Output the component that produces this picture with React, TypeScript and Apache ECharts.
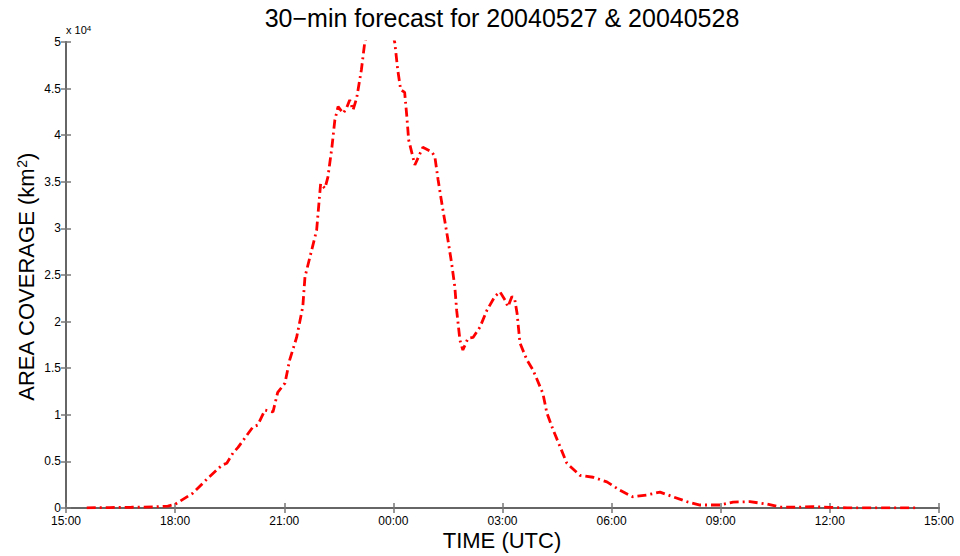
import React, { useEffect, useRef } from "react";
import * as echarts from "echarts";

// hours since 15:00 UTC (20040527)
const hours = [
  0.57, 1.2, 1.8, 2.4, 2.8, 3.0, 3.49, 3.9, 4.29, 4.42,
  4.59, 4.73, 4.97, 5.14, 5.27, 5.47, 5.69, 5.82, 6.02, 6.15,
  6.34, 6.51, 6.57, 6.89, 7.0, 7.12, 7.2, 7.31, 7.39, 7.48,
  7.62, 7.71, 7.8, 7.89, 7.99, 8.12, 8.21, 8.55, 8.85, 9.04,
  9.12, 9.2, 9.31, 9.37, 9.42, 9.59, 9.81, 10.06, 10.14, 10.23,
  10.34, 10.47, 10.6, 10.69, 10.74, 10.83, 10.91, 11.05, 11.19, 11.38,
  11.57, 11.79, 11.93, 12.07, 12.15, 12.26, 12.34, 12.4, 12.48, 12.67,
  12.84, 13.11, 13.22, 13.39, 13.58, 13.77, 14.13, 14.49, 14.87, 15.23,
  15.58, 15.97, 16.33, 16.69, 17.1, 17.43, 17.98, 18.34, 18.8, 19.26,
  19.63, 20.18, 20.54, 21.0, 21.47, 22.5, 23.4,
];

// area coverage (km^2)
const coverage = [
  20, 50, 80, 120, 200, 400, 1600, 3200, 4600, 4800,
  5900, 6500, 7800, 8700, 8900, 10500, 10300, 12400, 13400, 15900,
  18300, 21600, 24800, 29800, 34800, 34300, 35500, 38700, 41600, 43060,
  42350, 42880, 43780, 42700, 43960, 47000, 49860, 54500, 53500, 49900,
  47000, 44900, 44600, 42000, 39500, 36800, 38700, 38200, 37700, 35200,
  32500, 29500, 26300, 23700, 21200, 18000, 16950, 18200, 18300, 19400,
  21200, 22700, 23200, 22300, 21600, 22700, 22300, 20900, 17700, 15900,
  14800, 12300, 10200, 8400, 6600, 4800, 3500, 3300, 2800, 1900,
  1200, 1400, 1700, 1200, 640, 320, 320, 640, 680, 430,
  100, 100, 140, 75, 10, 10, 10,
];

const xTickLabels = ["15:00", "18:00", "21:00", "00:00", "03:00", "06:00", "09:00", "12:00", "15:00"];
const yTickLabels = ["0", "0.5", "1", "1.5", "2", "2.5", "3", "3.5", "4", "4.5", "5"];

const titleText = "30\u2212min forecast for 20040527 & 20040528";
const xName = "TIME (UTC)";
const yName = "AREA COVERAGE (km{sup|2})";
const exponentText = "x 10{sup|4}";

const FONT = "Liberation Sans, Arial, Helvetica, sans-serif";

export default function App() {
  const ref = useRef<HTMLDivElement>(null);

  useEffect(() => {
    if (!ref.current) return;
    const chart = echarts.init(ref.current, null, { renderer: "svg" });
    const data = hours.map((h, i) => [h, coverage[i]]);
    const axisLine = { show: true, lineStyle: { color: "#666", width: 2 } };
    const tick = { show: true, inside: true, length: 5, lineStyle: { color: "#777", width: 1.5 } };

    chart.setOption({
      animation: false,
      backgroundColor: "#fff",
      grid: { left: 66, right: 21, top: 42, bottom: 48, containLabel: false },
      xAxis: [
        {
          type: "value",
          min: 0,
          max: 24,
          interval: 3,
          axisLine,
          axisTick: tick,
          splitLine: { show: false },
          axisLabel: {
            formatter: (v: number) => xTickLabels[Math.round(v / 3)],
            color: "#000",
            fontSize: 12,
            fontFamily: FONT,
            margin: 7,
          },
        },
        {
          type: "value",
          position: "top",
          min: 0,
          max: 24,
          interval: 3,
          axisLine,
          axisTick: tick,
          splitLine: { show: false },
          axisLabel: { show: false },
        },
      ],
      yAxis: [
        {
          type: "value",
          min: 0,
          max: 50000,
          interval: 5000,
          axisLine,
          axisTick: tick,
          splitLine: { show: false },
          axisLabel: {
            formatter: (v: number) => yTickLabels[Math.round(v / 5000)],
            color: "#000",
            fontSize: 12,
            fontFamily: FONT,
            margin: 5,
          },
        },
        {
          type: "value",
          position: "right",
          min: 0,
          max: 50000,
          interval: 5000,
          axisLine,
          axisTick: tick,
          splitLine: { show: false },
          axisLabel: { show: false },
        },
      ],
      series: [
        {
          type: "line",
          data,
          showSymbol: false,
          clip: true,
          lineStyle: { color: "#ff0000", width: 2.8, type: [9, 4, 2, 4] },
        },
      ],
      graphic: [
        {
          type: "text",
          x: 502,
          y: 18,
          style: {
            text: titleText,
            font: `25px ${FONT}`,
            fill: "#000",
            textAlign: "center",
            textVerticalAlign: "middle",
          },
        },
        {
          type: "text",
          x: 502,
          y: 540,
          style: {
            text: xName,
            font: `22px ${FONT}`,
            fill: "#000",
            textAlign: "center",
            textVerticalAlign: "middle",
          },
        },
        {
          type: "text",
          x: 26,
          y: 277,
          rotation: Math.PI / 2,
          style: {
            text: yName,
            font: `22px ${FONT}`,
            fill: "#000",
            textAlign: "center",
            textVerticalAlign: "middle",
            rich: {
              sup: { fontSize: 14, fontFamily: FONT, verticalAlign: "top", fill: "#000" },
            },
          },
        },
        {
          type: "text",
          x: 66,
          y: 30,
          style: {
            text: exponentText,
            font: `11px ${FONT}`,
            fill: "#000",
            textAlign: "left",
            textVerticalAlign: "middle",
            rich: {
              sup: { fontSize: 8, fontFamily: FONT, verticalAlign: "top", fill: "#000" },
            },
          },
        },
      ],
    });
    return () => chart.dispose();
  }, []);

  return <div ref={ref} style={{ width: 960, height: 556, position: "absolute", left: 0, top: 0 }} />;
}
